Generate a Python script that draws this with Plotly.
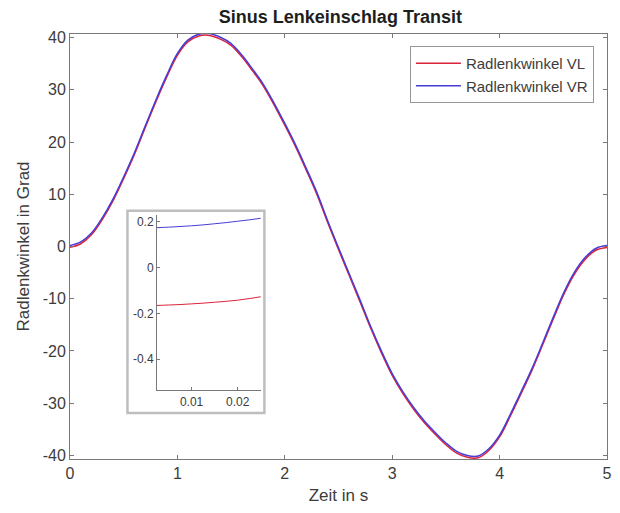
import plotly.graph_objects as go

# Zeitachse des Manövers (s)
zeit = [0.0, 0.1, 0.2, 0.3, 0.4, 0.5, 0.6, 0.7, 0.8, 0.9,
        1.0, 1.1, 1.2, 1.3, 1.4, 1.5, 1.6, 1.7, 1.8, 1.9,
        2.0, 2.1, 2.2, 2.3, 2.4, 2.5, 2.6, 2.7, 2.8, 2.9,
        3.0, 3.1, 3.2, 3.3, 3.4, 3.5, 3.6, 3.7, 3.8, 3.9,
        4.0, 4.1, 4.2, 4.3, 4.4, 4.5, 4.6, 4.7, 4.8, 4.9, 5.0]

# Radlenkwinkel vorne links (Grad)
winkel_vl = [-0.17, 0.53, 2.23, 5.13, 8.73, 13.03, 17.63, 22.73, 27.73, 32.43,
             36.63, 39.23, 40.33, 40.43, 39.73, 38.53, 36.33, 33.63, 30.73, 27.13,
             23.23, 19.13, 14.63, 9.93, 4.53, -0.57, -5.57, -10.57, -15.67, -20.37,
             -24.67, -28.17, -31.17, -33.77, -35.97, -37.97, -39.57, -40.37, -40.47, -39.07,
             -36.47, -32.47, -28.17, -23.77, -18.87, -13.87, -9.07, -5.17, -2.37, -0.67, -0.17]

# Radlenkwinkel vorne rechts (Grad)
winkel_vr = [0.17, 0.87, 2.57, 5.47, 9.07, 13.37, 17.97, 23.07, 28.07, 32.77,
             36.97, 39.57, 40.67, 40.77, 40.07, 38.87, 36.67, 33.97, 31.07, 27.47,
             23.57, 19.47, 14.97, 10.27, 4.87, -0.23, -5.23, -10.23, -15.33, -20.03,
             -24.33, -27.83, -30.83, -33.43, -35.63, -37.63, -39.23, -40.03, -40.13, -38.73,
             -36.13, -32.13, -27.83, -23.43, -18.53, -13.53, -8.73, -4.83, -2.03, -0.33, 0.17]

# Ausschnitt der ersten Millisekunden
zeit_detail = [0.0025, 0.005, 0.0075, 0.01, 0.0125, 0.015, 0.0175, 0.02, 0.0225, 0.025]
vl_detail = [-0.165, -0.163, -0.161, -0.158, -0.155, -0.151, -0.147, -0.142, -0.135, -0.127]
vr_detail = [0.175, 0.177, 0.180, 0.183, 0.187, 0.192, 0.197, 0.203, 0.209, 0.216]

# Achsbeschriftungen
x_ticks = [0, 1, 2, 3, 4, 5]
x_labels = ["0", "1", "2", "3", "4", "5"]
y_ticks = [-40, -30, -20, -10, 0, 10, 20, 30, 40]
y_labels = ["-40", "-30", "-20", "-10", "0", "10", "20", "30", "40"]
xd_ticks = [0.01, 0.02]
xd_labels = ["0.01", "0.02"]
yd_ticks = [-0.4, -0.2, 0, 0.2]
yd_labels = ["-0.4", "-0.2", "0", "0.2"]

ROT = "rgb(220,35,60)"
BLAU = "rgb(70,60,215)"
ACHSE = "rgb(120,120,120)"
TEXT = "rgb(60,60,60)"
FONT = "Liberation Sans, Arial, sans-serif"

fig = go.Figure()
fig.add_trace(go.Scatter(x=zeit, y=winkel_vl, mode="lines", name="Radlenkwinkel VL",
                         line=dict(color=ROT, width=1.5, shape="spline")))
fig.add_trace(go.Scatter(x=zeit, y=winkel_vr, mode="lines", name="Radlenkwinkel VR",
                         line=dict(color=BLAU, width=1.5, shape="spline")))

fig.add_trace(go.Scatter(x=zeit_detail, y=vl_detail, mode="lines", showlegend=False,
                         line=dict(color=ROT, width=1, shape="spline"),
                         xaxis="x2", yaxis="y2"))
fig.add_trace(go.Scatter(x=zeit_detail, y=vr_detail, mode="lines", showlegend=False,
                         line=dict(color=BLAU, width=1, shape="spline"),
                         xaxis="x2", yaxis="y2"))

# Rahmen um das Detailfenster
fig.add_shape(type="rect", xref="paper", yref="paper",
              x0=0.107, x1=0.362, y0=0.108, y1=0.584,
              line=dict(color="rgb(190,190,190)", width=2.5),
              fillcolor="white", layer="below")

fig.update_layout(
    width=620, height=513,
    margin=dict(l=70, r=8, t=34, b=54),
    paper_bgcolor="white", plot_bgcolor="rgba(0,0,0,0)",
    font=dict(family=FONT, color=TEXT, size=15),
    title=dict(text="<b>Sinus Lenkeinschlag Transit</b>", x=0.549, xanchor="center",
               y=0.967, yanchor="middle", font=dict(size=18, color="rgb(30,30,30)")),
    xaxis=dict(range=[0, 5], tickvals=x_ticks, ticktext=x_labels,
               showgrid=False, zeroline=False, showline=True, linecolor=ACHSE, linewidth=1,
               mirror="ticks", ticks="inside", ticklen=4, tickcolor=ACHSE,
               tickfont=dict(size=16), title=dict(text="Zeit in s", font=dict(size=17), standoff=7)),
    yaxis=dict(range=[-40.7, 40.7], tickvals=y_ticks, ticktext=y_labels,
               showgrid=False, zeroline=False, showline=True, linecolor=ACHSE, linewidth=1,
               mirror="ticks", ticks="inside", ticklen=4, tickcolor=ACHSE,
               tickfont=dict(size=16), title=dict(text="Radlenkwinkel in Grad", font=dict(size=17), standoff=8)),
    xaxis2=dict(domain=[0.162, 0.356], anchor="y2", range=[0.0025, 0.0251],
                tickvals=xd_ticks, ticktext=xd_labels,
                showgrid=False, zeroline=False, showline=True, linecolor=ACHSE, linewidth=1,
                ticks="inside", ticklen=3, tickcolor=ACHSE, tickfont=dict(size=12)),
    yaxis2=dict(domain=[0.162, 0.574], anchor="x2", range=[-0.535, 0.23],
                tickvals=yd_ticks, ticktext=yd_labels,
                showgrid=False, zeroline=False, showline=True, linecolor=ACHSE, linewidth=1,
                ticks="inside", ticklen=3, tickcolor=ACHSE, tickfont=dict(size=12)),
    legend=dict(x=0.633, y=0.972, xanchor="left", yanchor="top",
                bgcolor="white", bordercolor="rgb(150,150,150)", borderwidth=1,
                font=dict(size=15, color=TEXT), tracegroupgap=0, itemwidth=45),
    showlegend=True,
)

fig.write_html("out.html")
